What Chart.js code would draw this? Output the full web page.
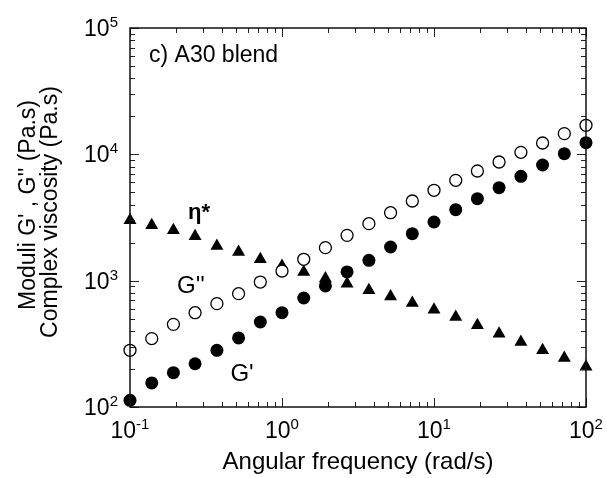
<!DOCTYPE html>
<html>
<head>
<meta charset="utf-8">
<script src="https://cdn.jsdelivr.net/npm/chart.js@4"></script>
<style>
  body { margin: 0; background: #fff; }
  #wrap { width: 607px; height: 478px; }
</style>
</head>
<body>
<div id="wrap"><canvas id="chart" width="607" height="478"></canvas></div>
<script>
// angular frequency (rad/s), 7 points per decade
const freq = [0.1, 0.139, 0.193, 0.268, 0.373, 0.518, 0.72, 1.0, 1.39, 1.93, 2.68,
  3.73, 5.18, 7.2, 10, 13.9, 19.3, 26.8, 37.3, 51.8, 72, 100];
// storage modulus G' (Pa)
const gPrime = [113, 155, 187, 220, 281, 352, 471, 558, 729, 908, 1172,
  1449, 1847, 2354, 2912, 3645, 4456, 5445, 6696, 8236, 10120, 12360];
// loss modulus G'' (Pa)
const gDouble = [281, 348, 451, 558, 658, 789, 975, 1193, 1476, 1825, 2284,
  2826, 3452, 4272, 5190, 6225, 7380, 8694, 10370, 12300, 14590, 16980];
// complex viscosity eta* (Pa.s)
const etaStar = [3006, 2742, 2503, 2244, 1880, 1686, 1476, 1307, 1172, 1038, 946,
  838, 751, 665, 589, 515, 443, 380, 327, 281, 244, 208];

const xDecades = [-1, 0, 1, 2];
const yDecades = [2, 3, 4, 5];

const FONT = "'Liberation Sans', Arial, sans-serif";
const toPoints = (ys) => freq.map((x, i) => ({ x, y: ys[i] }));

// frame, inward log ticks on all four sides, and every text label
const decorPlugin = {
  id: 'decor',
  afterDraw(chart) {
    const { ctx, chartArea: a } = chart;
    const xs = chart.scales.x, ys = chart.scales.y;
    ctx.save();

    ctx.strokeStyle = '#222';
    ctx.lineWidth = 1;
    for (let d = -1; d < 2; d++) {
      for (let m = 1; m <= 10; m++) {
        const v = m * Math.pow(10, d);
        const px = Math.round(xs.getPixelForValue(v)) + 0.5;
        const len = (m === 1 || m === 10) ? 9 : 5;
        ctx.beginPath();
        ctx.moveTo(px, a.bottom); ctx.lineTo(px, a.bottom - len);
        ctx.moveTo(px, a.top); ctx.lineTo(px, a.top + len);
        ctx.stroke();
      }
    }
    for (let d = 2; d < 5; d++) {
      for (let m = 1; m <= 10; m++) {
        const v = m * Math.pow(10, d);
        const py = Math.round(ys.getPixelForValue(v)) + 0.5;
        const len = (m === 1 || m === 10) ? 9 : 5;
        ctx.beginPath();
        ctx.moveTo(a.left, py); ctx.lineTo(a.left + len, py);
        ctx.moveTo(a.right, py); ctx.lineTo(a.right - len, py);
        ctx.stroke();
      }
    }

    ctx.lineWidth = 1.5;
    ctx.strokeStyle = '#111';
    ctx.strokeRect(a.left, a.top, a.right - a.left, a.bottom - a.top);

    ctx.fillStyle = '#000';
    ctx.textBaseline = 'alphabetic';
    const baseFont = '23px ' + FONT, supFont = '15px ' + FONT;

    // x tick labels: 10 with superscript exponent, centred on the tick
    xDecades.forEach((e) => {
      const px = xs.getPixelForValue(Math.pow(10, e));
      ctx.font = baseFont;
      const w1 = ctx.measureText('10').width;
      ctx.font = supFont;
      const w2 = ctx.measureText(String(e)).width;
      const x0 = px - (w1 + w2) / 2;
      ctx.textAlign = 'left';
      ctx.font = baseFont;
      ctx.fillText('10', x0, 438);
      ctx.font = supFont;
      ctx.fillText(String(e), x0 + w1, 429);
    });

    // y tick labels, right aligned left of the axis
    yDecades.forEach((e) => {
      const py = ys.getPixelForValue(Math.pow(10, e));
      ctx.font = supFont;
      const w2 = ctx.measureText(String(e)).width;
      const xr = a.left - 12;
      ctx.textAlign = 'left';
      ctx.fillText(String(e), xr - w2, py - 1);
      ctx.font = baseFont;
      ctx.textAlign = 'right';
      ctx.fillText('10', xr - w2, py + 8);
    });

    // axis titles
    ctx.textAlign = 'center';
    ctx.font = '24px ' + FONT;
    ctx.fillText('Angular frequency (rad/s)', (a.left + a.right) / 2, 469);

    ctx.font = '23px ' + FONT;
    ctx.save();
    ctx.translate(35, 205);
    ctx.rotate(-Math.PI / 2);
    ctx.fillText('Moduli G\' , G\'\' (Pa.s)', 0, 0);
    ctx.restore();
    ctx.save();
    ctx.translate(57, 212);
    ctx.rotate(-Math.PI / 2);
    ctx.fillText('Complex viscosity (Pa.s)', 0, 0);
    ctx.restore();

    // panel title and curve labels
    ctx.textAlign = 'left';
    ctx.font = '23px ' + FONT;
    ctx.fillText('c) A30 blend', 149, 62);
    ctx.textAlign = 'center';
    ctx.font = '24px ' + FONT;
    ctx.fillText('G\'\'', 191, 293);
    ctx.fillText('G\'', 242, 381);
    ctx.font = 'bold 22px ' + FONT;
    ctx.fillText('η*', 199, 219);

    ctx.restore();
  }
};

new Chart(document.getElementById('chart'), {
  type: 'scatter',
  data: {
    datasets: [
      {
        label: "G''",
        data: toPoints(gDouble),
        pointStyle: 'circle',
        pointRadius: 6,
        backgroundColor: '#fff',
        borderColor: '#000',
        borderWidth: 1.3,
      },
      {
        label: "G'",
        data: toPoints(gPrime),
        pointStyle: 'circle',
        pointRadius: 6.5,
        backgroundColor: '#000',
        borderColor: '#000',
        borderWidth: 0,
      },
      {
        label: 'η*',
        data: toPoints(etaStar),
        pointStyle: 'triangle',
        pointRadius: 7.5,
        backgroundColor: '#000',
        borderColor: '#000',
        borderWidth: 0,
      },
    ],
  },
  options: {
    responsive: false,
    animation: false,
    layout: { padding: { left: 130, right: 21, top: 28, bottom: 71 } },
    elements: { point: { hoverRadius: 6 } },
    datasets: { scatter: { clip: false } },
    plugins: {
      legend: { display: false },
      tooltip: { enabled: false },
    },
    scales: {
      x: { type: 'logarithmic', min: 0.1, max: 100, display: false },
      y: { type: 'logarithmic', min: 100, max: 100000, display: false },
    },
  },
  plugins: [decorPlugin],
});
</script>
</body>
</html>
